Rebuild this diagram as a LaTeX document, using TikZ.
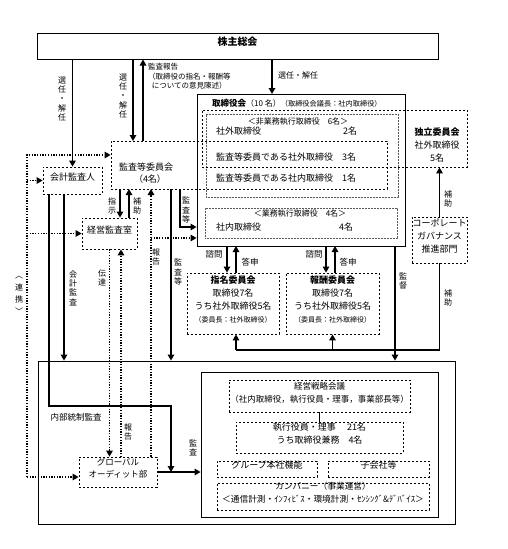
\documentclass[tikz,border=0pt]{standalone}
\usepackage{fontspec}
\setmainfont{Noto Sans CJK JP}
\usetikzlibrary{arrows.meta,fit}

\tikzset{
  box/.style={draw,line width=0.8pt,inner sep=0pt,align=center},
  dashbox/.style={box,dash pattern=on 2.4pt off 1.6pt},
  dotbox/.style={box,gray!70!black,line width=0.6pt,dash pattern=on 0.6pt off 0.9pt},
  conn/.style={line width=1.3pt},
  arr/.style={conn,-{Triangle[width=6.5pt,length=6pt]}},
  dotconn/.style={conn,dash pattern=on 1.3pt off 1.4pt},
  dotarr/.style={dotconn,-{Triangle[width=6.5pt,length=6pt]}},
  txt/.style={inner sep=0pt,align=center},
  small/.style={txt,font=\fontsize{8}{9.5}\selectfont},
  vlab/.style={txt,font=\fontsize{8}{9.3}\selectfont},
}

\begin{document}
\begin{tikzpicture}[x=1pt,y=-1pt,font=\fontsize{9}{13}\selectfont]
\useasboundingbox (0,0) rectangle (507,549);

\node[box,line width=1pt,fit={(37,33)(438,59)},font=\fontsize{10}{12}\selectfont\bfseries] (sh) {株主総会};
\node[dashbox,fit={(43,167)(102,194)}] (kk) {会計監査人};
\node[dashbox,fit={(111,141)(387,189)}] (ak) {};
\node[txt] (akl) at (146,167) {監査等委員会};
\node[txt] (akn) at (150,179) {（4名）};
\node[dashbox,fit={(82,218)(137,249)}] (ks) {経営監査室};
\node[dashbox,fit={(79,457)(157,487)},font=\fontsize{8.5}{12}\selectfont] (ga) {グローバル\\オーディット部};

\node[box,fit={(197,94)(405,246)}] (tb) {};
\node[txt,anchor=west] (tbl) at (212,103) {{\fontsize{8.5}{10}\selectfont\bfseries 取締役会}{\fontsize{8}{10}\selectfont（10 名）}{\fontsize{7.2}{9}\selectfont（取締役会議長：社内取締役）}};
\node[dotbox,fit={(206,114)(398,197)}] (ne) {};
\node[small] (nel) at (298,122) {＜非業務執行取締役　6名＞};
\node[txt,anchor=west] (ne1) at (216,131) {社外取締役};
\node[txt] (ne1n) at (350,131) {2名};
\node[txt,anchor=west] (ne2) at (216,157) {監査等委員である社外取締役　3名};
\node[txt,anchor=west] (ne3) at (216,178) {監査等委員である社内取締役　1名};
\node[dotbox,fit={(205,208)(397,238)}] (ex) {};
\node[small] (exl) at (300,214) {＜業務執行取締役　4名＞};
\node[txt,anchor=west] (ex1) at (216,227) {社内取締役};
\node[txt] (ex1n) at (346,227) {4名};

\node[dashbox,fit={(202,110)(467,167)}] (ind) {};
\node[txt] (indl) at (437,145) {\textbf{独立委員会}\\社外取締役\\5名};
\node[dashbox,fit={(412,217)(467,263)}] (cg) {コーポレート\\ガバナンス\\推進部門};

\node[dashbox,fit={(187,273)(279,334)}] (ns) {\textbf{指名委員会}\\取締役7名\\うち社外取締役5名\\{\fontsize{7}{9}\selectfont（委員長：社外取締役）}};
\node[dashbox,fit={(286,273)(379,334)}] (hs) {\textbf{報酬委員会}\\取締役7名\\うち社外取締役5名\\{\fontsize{7}{9}\selectfont（委員長：社外取締役）}};

\node[box,fit={(38,361)(455,524)}] (big) {};
\node[box,fit={(201,372)(438,517)}] (inner) {};
\node[dashbox,fit={(229,380)(410,412)},font=\fontsize{8.5}{13}\selectfont] (se) {経営戦略会議\\（社内取締役，執行役員・理事，事業部長等）};
\node[dashbox,fit={(236,422)(403,453)}] (yk) {執行役員・理事　 21名\\うち取締役兼務　4名};
\node[dashbox,fit={(217,461)(317,477)}] (gh) {グループ本社機能};
\node[dashbox,fit={(328,461)(429,477)}] (ko) {子会社等};
\node[dashbox,fit={(217,483)(429,510)},font=\fontsize{8.7}{13.5}\selectfont] (cp) {カンパニー（事業運営）\\＜通信計測・ｲﾝﾌｨﾋﾞｽ・環境計測・ｾﾝｼﾝｸﾞ\&ﾃﾞﾊﾞｲｽ＞};

\coordinate (s1) at (133,141);
\coordinate (s2) at (143,141);
\coordinate (s3) at (272,94);
\coordinate (lk1) at (27,155);
\coordinate (lk2) at (27,477);
\coordinate (k1) at (49,194);
\coordinate (k2) at (64,194);
\coordinate (ic) at (171,406);
\coordinate (a1) at (120,189);
\coordinate (a2) at (129,189);
\coordinate (a3) at (151,189);
\coordinate (a4) at (151,238);
\coordinate (a5) at (171,189);
\coordinate (a6) at (180,189);
\coordinate (a7) at (180,227);
\coordinate (b2) at (121,457);
\coordinate (c1) at (227,246);
\coordinate (c2) at (236,246);
\coordinate (c3) at (326,246);
\coordinate (c4) at (335,246);
\coordinate (c5) at (395,246);
\coordinate (bh) at (236,350);

\draw[arr] (kk.north |- sh.south) -- (kk.north);
\draw[arr] (s1 |- sh.south) -- (s1);
\draw[arr] (s2) -- (s2 |- sh.south);
\draw[arr] (s3 |- sh.south) -- (s3);

\draw[dotarr] (lk2) -- (lk1) -- (lk1 -| ak.west);
\draw[dotarr] (lk1 |- kk.west) -- (kk.west);
\draw[dotarr] (lk1 |- ks.west) -- (ks.west);
\draw[dotarr] (lk2) -- (lk2 -| ga.west);

\draw[arr] (k2) -- (k2 |- big.north);
\draw[arr] (k1) |- (ic) -- (ic |- ga.east);
\draw[arr] (ga.east) -- (ga.east -| inner.west);

\draw[arr] (a1) -- (a1 |- ks.north);
\draw[arr] (a2 |- ks.north) -- (a2);
\draw[dotarr] (a3 |- ga.north) -- (a3);
\draw[dotarr] (a4) -- (a4 -| tb.west);
\draw[arr] (a5) -- (a5 |- big.north);
\draw[arr] (a6) -- (a7) -- (a7 -| tb.west);
\draw[dotarr] (ks.south) -- (ks.south |- ga.north);
\draw[dotarr] (b2) -- (b2 |- ks.south);

\draw[arr] (c1) -- (c1 |- ns.north);
\draw[arr] (c2 |- ns.north) -- (c2);
\draw[arr] (c3) -- (c3 |- hs.north);
\draw[arr] (c4 |- hs.north) -- (c4);
\draw[arr] (c5) -- (c5 |- big.north);
\draw[arr] (cg.north) -- (cg.north |- ind.south);
\draw[conn] (cg.south) |- (bh);
\draw[arr] (bh) -- (bh |- ns.south);
\draw[arr] (hs.south |- bh) -- (hs.south);
\draw[line width=1pt] (se.south) -- (se.south |- yk.north);

\foreach \x/\y/\t [count=\i] in {62/99/{選\\任\\・\\解\\任}, 123/96/{選\\任\\・\\解\\任},
    112/206/{指\\示}, 137/206/{補\\助}, 186/210/{監\\査\\等}, 156/257/{報\\告},
    178/272/{監\\査\\等}, 73/288/{会\\計\\監\\査}, 102/278/{伝\\達}, 128/432/{報\\告},
    193/448/{監\\査}, 403/281/{監\\督}, 448/199/{補\\助}, 448/298/{補\\助}}
  \node[vlab] (v\i) at (\x,\y) {\t};
\node[txt,font=\fontsize{8}{12}\selectfont] (rk) at (19,295) {︿\\連\\携\\﹀};

\node[small,align=left,anchor=north west,font=\fontsize{7.5}{9.5}\selectfont] (hk) at (148,63) {監査報告\\（取締役の指名・報酬等\\\hspace{0.5em}についての意見陳述）};
\node[small,anchor=west] (sk) at (278,75) {選任・解任};
\foreach \x/\y/\t [count=\i] in {214/254/諮問, 250/262/答申, 314/254/諮問, 348/262/答申}
  \node[txt,font=\fontsize{8.5}{10}\selectfont] (h\i) at (\x,\y) {\t};
\node[txt,font=\fontsize{8.5}{10}\selectfont] (nt) at (76,417) {内部統制監査};
\end{tikzpicture}
\end{document}
